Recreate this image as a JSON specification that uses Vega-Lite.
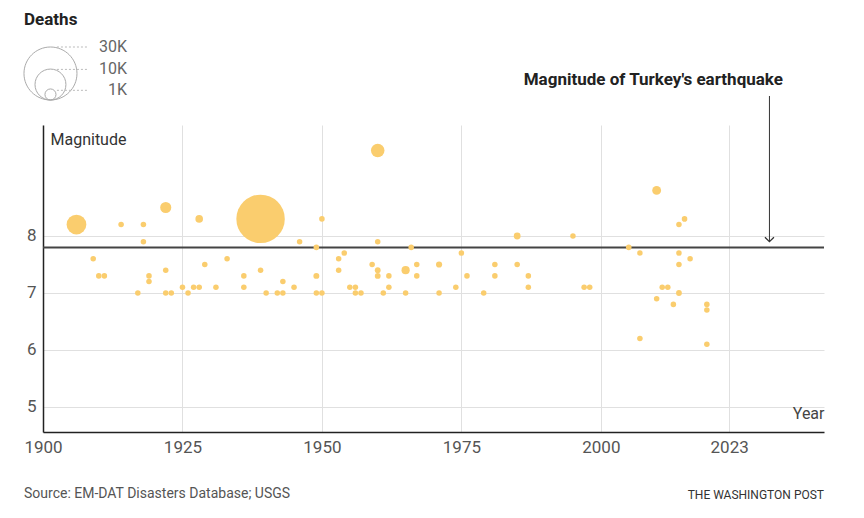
{
  "$schema": "https://vega.github.io/schema/vega-lite/v6.json",
  "width": 781,
  "height": 307,
  "autosize": "none",
  "padding": {"left": 43, "top": 125, "right": 40, "bottom": 86},
  "background": "white",
  "config": {
    "view": {"stroke": null},
    "font": "Roboto",
    "axis": {"labelFont": "Roboto", "titleFont": "Roboto"}
  },
  "datasets": {
    "quakes": [
      {"year": 1906, "magnitude": 8.2, "deaths": 3882},
      {"year": 1909, "magnitude": 7.6, "deaths": 5},
      {"year": 1910, "magnitude": 7.3, "deaths": 5},
      {"year": 1911, "magnitude": 7.3, "deaths": 5},
      {"year": 1914, "magnitude": 8.2, "deaths": 5},
      {"year": 1917, "magnitude": 7.0, "deaths": 5},
      {"year": 1918, "magnitude": 8.2, "deaths": 5},
      {"year": 1918, "magnitude": 7.9, "deaths": 5},
      {"year": 1919, "magnitude": 7.3, "deaths": 5},
      {"year": 1919, "magnitude": 7.2, "deaths": 5},
      {"year": 1922, "magnitude": 8.5, "deaths": 1000},
      {"year": 1922, "magnitude": 7.4, "deaths": 5},
      {"year": 1922, "magnitude": 7.0, "deaths": 5},
      {"year": 1923, "magnitude": 7.0, "deaths": 5},
      {"year": 1925, "magnitude": 7.1, "deaths": 5},
      {"year": 1926, "magnitude": 7.0, "deaths": 5},
      {"year": 1927, "magnitude": 7.1, "deaths": 5},
      {"year": 1928, "magnitude": 7.1, "deaths": 5},
      {"year": 1928, "magnitude": 8.3, "deaths": 300},
      {"year": 1929, "magnitude": 7.5, "deaths": 5},
      {"year": 1931, "magnitude": 7.1, "deaths": 5},
      {"year": 1933, "magnitude": 7.6, "deaths": 5},
      {"year": 1936, "magnitude": 7.3, "deaths": 5},
      {"year": 1936, "magnitude": 7.1, "deaths": 5},
      {"year": 1939, "magnitude": 8.3, "deaths": 25000},
      {"year": 1939, "magnitude": 7.4, "deaths": 5},
      {"year": 1940, "magnitude": 7.0, "deaths": 5},
      {"year": 1942, "magnitude": 7.0, "deaths": 5},
      {"year": 1943, "magnitude": 7.0, "deaths": 5},
      {"year": 1943, "magnitude": 7.2, "deaths": 5},
      {"year": 1945, "magnitude": 7.1, "deaths": 5},
      {"year": 1946, "magnitude": 7.9, "deaths": 5},
      {"year": 1949, "magnitude": 7.8, "deaths": 5},
      {"year": 1949, "magnitude": 7.3, "deaths": 60},
      {"year": 1949, "magnitude": 7.0, "deaths": 5},
      {"year": 1950, "magnitude": 7.0, "deaths": 5},
      {"year": 1950, "magnitude": 8.3, "deaths": 5},
      {"year": 1953, "magnitude": 7.6, "deaths": 5},
      {"year": 1953, "magnitude": 7.4, "deaths": 5},
      {"year": 1954, "magnitude": 7.7, "deaths": 5},
      {"year": 1955, "magnitude": 7.1, "deaths": 5},
      {"year": 1956, "magnitude": 7.1, "deaths": 5},
      {"year": 1956, "magnitude": 7.0, "deaths": 5},
      {"year": 1957, "magnitude": 7.0, "deaths": 5},
      {"year": 1959, "magnitude": 7.5, "deaths": 5},
      {"year": 1960, "magnitude": 9.5, "deaths": 1655},
      {"year": 1960, "magnitude": 7.9, "deaths": 5},
      {"year": 1960, "magnitude": 7.4, "deaths": 40},
      {"year": 1960, "magnitude": 7.3, "deaths": 40},
      {"year": 1961, "magnitude": 7.0, "deaths": 5},
      {"year": 1962, "magnitude": 7.3, "deaths": 5},
      {"year": 1962, "magnitude": 7.1, "deaths": 5},
      {"year": 1965, "magnitude": 7.4, "deaths": 400},
      {"year": 1965, "magnitude": 7.0, "deaths": 5},
      {"year": 1966, "magnitude": 7.8, "deaths": 5},
      {"year": 1967, "magnitude": 7.5, "deaths": 5},
      {"year": 1967, "magnitude": 7.3, "deaths": 5},
      {"year": 1971, "magnitude": 7.5, "deaths": 85},
      {"year": 1971, "magnitude": 7.0, "deaths": 5},
      {"year": 1974, "magnitude": 7.1, "deaths": 5},
      {"year": 1975, "magnitude": 7.7, "deaths": 5},
      {"year": 1976, "magnitude": 7.3, "deaths": 5},
      {"year": 1979, "magnitude": 7.0, "deaths": 5},
      {"year": 1981, "magnitude": 7.5, "deaths": 5},
      {"year": 1981, "magnitude": 7.3, "deaths": 5},
      {"year": 1985, "magnitude": 8.0, "deaths": 177},
      {"year": 1985, "magnitude": 7.5, "deaths": 5},
      {"year": 1987, "magnitude": 7.3, "deaths": 5},
      {"year": 1987, "magnitude": 7.1, "deaths": 5},
      {"year": 1995, "magnitude": 8.0, "deaths": 3},
      {"year": 1997, "magnitude": 7.1, "deaths": 5},
      {"year": 1998, "magnitude": 7.1, "deaths": 5},
      {"year": 2005, "magnitude": 7.8, "deaths": 11},
      {"year": 2007, "magnitude": 7.7, "deaths": 2},
      {"year": 2007, "magnitude": 6.2, "deaths": 5},
      {"year": 2010, "magnitude": 8.8, "deaths": 525},
      {"year": 2010, "magnitude": 6.9, "deaths": 5},
      {"year": 2011, "magnitude": 7.1, "deaths": 5},
      {"year": 2012, "magnitude": 7.1, "deaths": 5},
      {"year": 2013, "magnitude": 6.8, "deaths": 5},
      {"year": 2014, "magnitude": 8.2, "deaths": 6},
      {"year": 2014, "magnitude": 7.7, "deaths": 5},
      {"year": 2014, "magnitude": 7.5, "deaths": 5},
      {"year": 2014, "magnitude": 7.0, "deaths": 40},
      {"year": 2015, "magnitude": 8.3, "deaths": 15},
      {"year": 2016, "magnitude": 7.6, "deaths": 5},
      {"year": 2019, "magnitude": 6.8, "deaths": 5},
      {"year": 2019, "magnitude": 6.7, "deaths": 5},
      {"year": 2019, "magnitude": 6.1, "deaths": 5}
    ],
    "legendRows": [
      {"deaths": 30000, "label": "30K"},
      {"deaths": 10000, "label": "10K"},
      {"deaths": 1000, "label": "1K"}
    ]
  },
  "layer": [
    {
      "layer": [
        {
          "data": {"values": [{"note": "Deaths"}]},
          "mark": {"type": "text", "align": "left", "baseline": "middle", "fontSize": 17, "fontWeight": "bold", "color": "#222"},
          "encoding": {
            "x": {"datum": 1896.6, "type": "quantitative"},
            "y": {"datum": 11.79, "type": "quantitative"},
            "text": {"field": "note"}
          }
        },
        {
          "data": {"values": [{"mag": 7.8}]},
          "mark": {"type": "rule", "color": "#444", "strokeWidth": 2},
          "encoding": {
            "y": {"field": "mag", "type": "quantitative"}
          }
        },
        {
          "data": {"name": "quakes"},
          "mark": {"type": "circle", "color": "#FACD6E", "opacity": 1},
          "encoding": {
            "x": {
              "field": "year", "type": "quantitative",
              "scale": {"domain": [1900, 2040], "nice": false, "zero": false},
              "axis": {
                "values": [1900, 1925, 1950, 1975, 2000, 2023], "format": "d",
                "title": "Year", "titleX": 781, "titleY": -19, "titleAlign": "right", "titleBaseline": "middle",
                "titleFontSize": 16, "titleFontWeight": "normal", "titleColor": "#444",
                "labelFontSize": 17, "labelColor": "#555", "labelPadding": 7, "labelFlush": false,
                "ticks": false, "domainColor": "#222", "domainWidth": 1.5,
                "grid": true, "gridColor": "#e0e0e0"
              }
            },
            "y": {
              "field": "magnitude", "type": "quantitative",
              "scale": {"domain": [4.561, 9.947], "nice": false, "zero": false},
              "axis": {
                "values": [5, 6, 7, 8], "format": "d",
                "title": "Magnitude", "titleAngle": 0, "titleX": 7, "titleY": 14, "titleAlign": "left", "titleBaseline": "middle",
                "titleFontSize": 16, "titleFontWeight": "normal", "titleColor": "#333",
                "labelFontSize": 17, "labelColor": "#555", "labelPadding": 7,
                "ticks": false, "domainColor": "#222", "domainWidth": 1.5,
                "grid": true, "gridColor": "#e0e0e0"
              }
            },
            "size": {
              "field": "deaths", "type": "quantitative",
              "scale": {"domain": [0, 30000], "range": [30, 2809]},
              "legend": null
            }
          }
        },
        {
          "data": {"values": [{"note": "arrow"}]},
          "mark": {"type": "rule", "color": "#333", "strokeWidth": 1},
          "encoding": {
            "x": {"datum": 2030.22, "type": "quantitative"},
            "y": {"datum": 10.456, "type": "quantitative"},
            "y2": {"datum": 7.9}
          }
        },
        {
          "data": {"values": [{"note": "arrowhead"}]},
          "mark": {"type": "point", "shape": "M -1 -1 L 0 0 L 1 -1", "filled": false, "stroke": "#333", "strokeWidth": 1.3, "size": 81, "opacity": 1},
          "encoding": {
            "x": {"datum": 2030.22, "type": "quantitative"},
            "y": {"datum": 7.9, "type": "quantitative"}
          }
        },
        {
          "data": {"values": [{"note": "Magnitude of Turkey's earthquake"}]},
          "mark": {"type": "text", "align": "right", "baseline": "middle", "fontSize": 17, "fontWeight": "bold", "color": "#222"},
          "encoding": {
            "x": {"datum": 2032.64, "type": "quantitative"},
            "y": {"datum": 10.736, "type": "quantitative"},
            "text": {"field": "note"}
          }
        },
        {
          "data": {"values": [{"note": "Source: EM-DAT Disasters Database; USGS"}]},
          "mark": {"type": "text", "align": "left", "baseline": "middle", "fontSize": 14, "color": "#555"},
          "encoding": {
            "x": {"datum": 1896.6, "type": "quantitative"},
            "y": {"datum": 3.473, "type": "quantitative"},
            "text": {"field": "note"}
          }
        },
        {
          "data": {"values": [{"note": "THE WASHINGTON POST"}]},
          "mark": {"type": "text", "align": "right", "baseline": "middle", "fontSize": 12, "color": "#333"},
          "encoding": {
            "x": {"datum": 2040, "type": "quantitative"},
            "y": {"datum": 3.455, "type": "quantitative"},
            "text": {"field": "note"}
          }
        }
      ]
    },
    {
      "data": {"name": "legendRows"},
      "layer": [
        {
          "mark": {"type": "point", "shape": "M -1 -1 A 1 1 0 1 0 1 -1 A 1 1 0 1 0 -1 -1 Z", "filled": false, "stroke": "#aaa", "strokeWidth": 1, "opacity": 1},
          "encoding": {
            "x": {"datum": 1901.34, "type": "quantitative"},
            "y": {"datum": 0, "type": "quantitative", "scale": {"type": "sqrt", "domain": [0, 30000], "range": [-25, -78]}, "axis": null},
            "size": {"field": "deaths", "type": "quantitative"}
          }
        },
        {
          "mark": {"type": "rule", "stroke": "#bbb", "strokeWidth": 1, "strokeDash": [2, 2]},
          "encoding": {
            "x": {"datum": 1902.5, "type": "quantitative"},
            "x2": {"datum": 1908.07},
            "y": {"field": "deaths", "type": "quantitative"}
          }
        },
        {
          "mark": {"type": "text", "align": "right", "baseline": "middle", "fontSize": 16, "color": "#666"},
          "encoding": {
            "x": {"datum": 1915.06, "type": "quantitative"},
            "y": {"field": "deaths", "type": "quantitative"},
            "text": {"field": "label"}
          }
        }
      ]
    }
  ],
  "resolve": {"scale": {"y": "independent"}}
}
